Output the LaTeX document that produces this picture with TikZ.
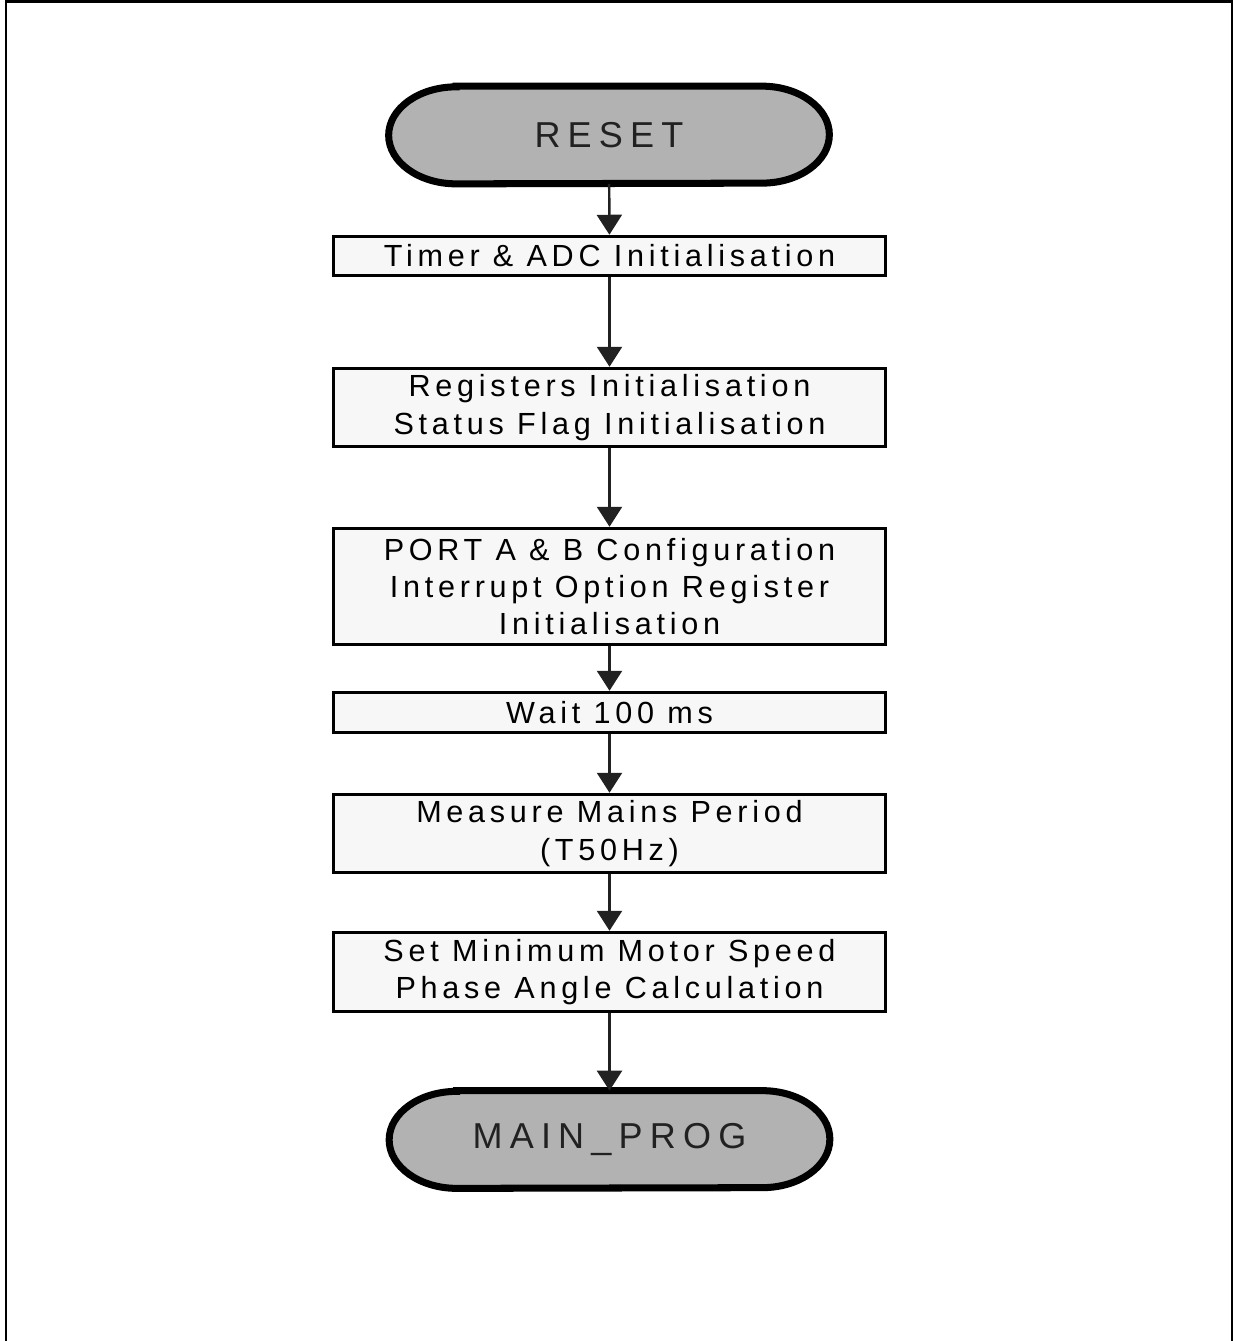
\documentclass[tikz,border=0pt]{standalone}
\usepackage{fontspec}
\setmainfont{Liberation Sans}[LetterSpace=15.5]
\newfontfamily\termfont{Liberation Sans}[LetterSpace=20]
\usetikzlibrary{arrows.meta,backgrounds}

\begin{document}
\begin{tikzpicture}[
  flowterm/.style = {minimum width=8.8cm, minimum height=1.94cm, inner sep=0pt,
    font=\termfont\fontsize{20.5}{24}\selectfont, text=black!87},
  flowtermline/.style = {line width=4pt, draw=black, fill=black!30},
  flowbox/.style = {draw, line width=1.7pt, fill=black!3, minimum width=11.05cm,
    inner sep=0pt, align=center, font=\fontsize{17.4}{21.3}\selectfont},
  flowarrow/.style = {-{Triangle[length=0.4cm,width=0.5cm]}, line width=1.4pt, color=black!87}
]
  \useasboundingbox (0,0) rectangle (24.66,-26.82);
  % frame
  \draw[line width=1.3pt] (0.12,-26.82) -- (0.12,-0.03) -- (24.64,-0.03) -- (24.64,-26.82);

  % start / end
  \node[flowterm] (reset) at (12.18,-2.70) {RESET};
  \node[flowterm] (mainprog) at (12.19,-22.79) {MAIN\_PROG};

  % steps
  \node[flowbox, minimum height=0.79cm] (timer) at (12.19,-5.12) {Timer \& ADC Initialisation};
  \node[flowbox, minimum height=1.57cm] (regs) at (12.19,-8.15) {Registers Initialisation\\Status Flag Initialisation};
  \node[flowbox, minimum height=2.33cm] (port) at (12.19,-11.73) {PORT A \& B Configuration\\Interrupt Option Register\\Initialisation};
  \node[flowbox, minimum height=0.81cm] (wait) at (12.19,-14.25) {Wait 100 ms};
  \node[flowbox, minimum height=1.57cm] (mains) at (12.19,-16.67) {Measure Mains Period\\(T50Hz)};
  \node[flowbox, minimum height=1.59cm] (speed) at (12.19,-19.44) {Set Minimum Motor Speed\\Phase Angle Calculation};

  % terminal outlines
  \begin{pgfonlayer}{background}
    \foreach \t in {reset, mainprog}
      \draw[flowtermline] ([xshift=1.35cm]\t.north west) -- ([xshift=-1.35cm]\t.north east)
        arc[start angle=90, end angle=-90, x radius=1.35cm, y radius=0.97cm]
        -- ([xshift=1.35cm]\t.south west)
        arc[start angle=270, end angle=90, x radius=1.35cm, y radius=0.97cm] -- cycle;
  \end{pgfonlayer}

  % connectors
  \draw[flowarrow] (reset) -- (timer);
  \draw[flowarrow] (timer) -- (regs);
  \draw[flowarrow] (regs) -- (port);
  \draw[flowarrow] (port) -- (wait);
  \draw[flowarrow] (wait) -- (mains);
  \draw[flowarrow] (mains) -- (speed);
  \draw[flowarrow] (speed) -- (mainprog);
\end{tikzpicture}
\end{document}
